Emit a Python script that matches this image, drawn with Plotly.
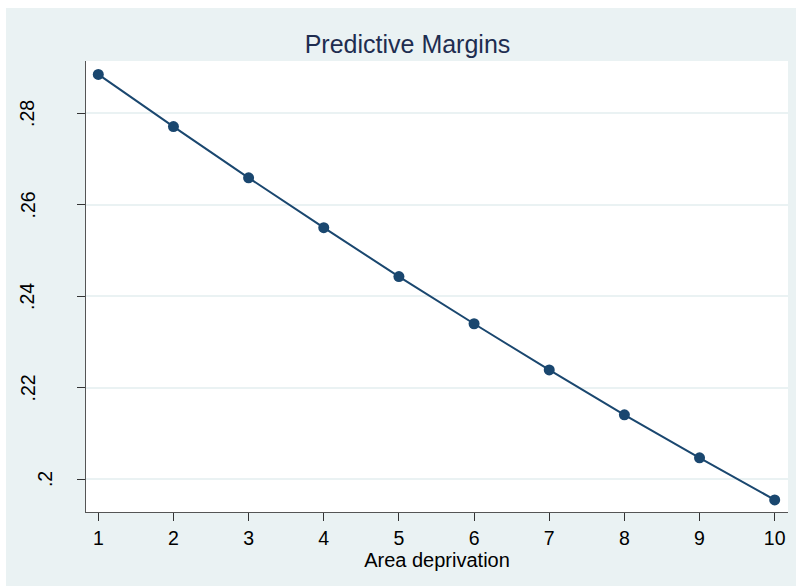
import plotly.graph_objects as go

# Data
area_deprivation = [1, 2, 3, 4, 5, 6, 7, 8, 9, 10]
predicted_margin = [0.2885, 0.2771, 0.2659, 0.2550, 0.2443, 0.2340, 0.2239, 0.2141, 0.2047, 0.1955]
y_tick_values = [0.20, 0.22, 0.24, 0.26, 0.28]
y_tick_labels = [".2", ".22", ".24", ".26", ".28"]
x_tick_values = [1, 2, 3, 4, 5, 6, 7, 8, 9, 10]
x_tick_labels = ["1", "2", "3", "4", "5", "6", "7", "8", "9", "10"]

NAVY = "#1a476f"
BG = "#eaf2f3"
FONT = "Liberation Sans, Arial, sans-serif"

fig = go.Figure()
fig.add_trace(go.Scatter(
    x=area_deprivation, y=predicted_margin, mode="lines+markers",
    line=dict(color=NAVY, width=2),
    marker=dict(color=NAVY, size=11),
    showlegend=False, hoverinfo="x+y",
))

L, R, T, B = 86, 8, 61, 74
W, H = 796, 586
pw, ph = W - L - R, H - T - B

# rotated y tick labels (Stata-style placement)
annotations = []
for v, lab in zip(y_tick_values, y_tick_labels):
    cx = 27.7 if len(lab) > 2 else 44.8
    annotations.append(dict(
        x=0, xref="paper", y=v, yref="y", text=lab, showarrow=False,
        textangle=-90, xanchor="center", yanchor="middle",
        xshift=cx - L, font=dict(family=FONT, size=19.5, color="black"),
    ))

shapes = [
    # white outer border (left and top)
    dict(type="rect", xref="paper", yref="paper", x0=(0 - L) / pw, x1=(6 - L) / pw,
         y0=-0.3, y1=1.3, fillcolor="white", line=dict(width=0), layer="below"),
    dict(type="rect", xref="paper", yref="paper", x0=-0.3, x1=1.3,
         y0=(H - B - 8) / ph, y1=1.3, fillcolor="white", line=dict(width=0), layer="below"),
]

fig.update_layout(
    width=W, height=H,
    margin=dict(l=L, r=R, t=T, b=B, pad=0),
    paper_bgcolor=BG, plot_bgcolor="white",
    font=dict(family=FONT, color="black"),
    title=dict(text="Predictive Margins", x=(407.5) / W, xanchor="center",
               y=1 - 53 / H, yanchor="bottom", yref="container",
               font=dict(family=FONT, size=25, color="#1e2d50")),
    annotations=annotations,
    shapes=shapes,
    xaxis=dict(
        range=[0.8364, 10.177], tickvals=x_tick_values, ticktext=x_tick_labels,
        showgrid=False, zeroline=False, showline=True, linecolor="#555555", linewidth=1.2,
        ticks="outside", ticklen=8, tickwidth=1, tickcolor="#333333",
        tickfont=dict(family=FONT, size=19.5, color="black"),
        title=dict(text="Area deprivation", font=dict(family=FONT, size=20, color="black"), standoff=2),
    ),
    yaxis=dict(
        range=[0.19285, 0.29143], tickvals=y_tick_values, showticklabels=False,
        showgrid=True, gridcolor=BG, gridwidth=1.6, zeroline=False,
        showline=True, linecolor="#555555", linewidth=1.2,
        ticks="outside", ticklen=8, tickwidth=1, tickcolor="#333333",
    ),
)

fig.write_html("out.html")
